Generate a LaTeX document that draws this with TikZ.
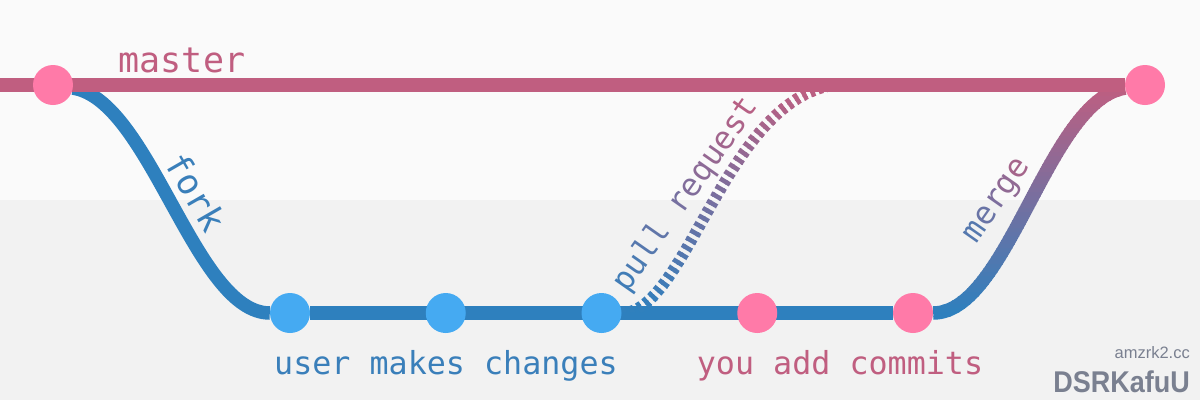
\documentclass[tikz,border=0pt]{standalone}
\usepackage{fontspec}
\setmonofont{DejaVu Sans Mono}
\setsansfont{Liberation Sans}
\usetikzlibrary{calc,positioning}
\definecolor{bgtop}{RGB}{250,250,250}
\definecolor{bgbot}{RGB}{242,242,242}
\definecolor{mauve}{RGB}{192,94,128}
\definecolor{lineblue}{RGB}{46,128,190}
\definecolor{dotpink}{RGB}{255,122,168}
\definecolor{dotblue}{RGB}{69,170,242}
\definecolor{txtblue}{RGB}{58,127,186}
\definecolor{wmgray}{RGB}{122,128,144}
\pgfdeclarelayer{bg}
\pgfsetlayers{bg,main}
\tikzset{%
  dot/.style = { circle, inner sep=0pt, minimum size=40pt },
  pinkdot/.style = { dot, fill=dotpink },
  bluedot/.style = { dot, fill=dotblue },
  branch/.style = { line width=13.5pt },
  pr/.style = { line width=11.5pt, dash pattern=on 4.5pt off 4pt },
  lbl/.style = { inner sep=0pt, font=\fontsize{31.7}{36}\selectfont\ttfamily },
  biglbl/.style = { inner sep=0pt, font=\fontsize{35}{40}\selectfont\ttfamily },
  wm/.style = { inner sep=0pt, text=wmgray, anchor=base east }
}
\newcommand\mixcol[2]{\textcolor{mauve!#1!txtblue}{#2}}

\begin{document}
\begin{tikzpicture}[x=1pt,y=-1pt]
  \useasboundingbox (0,0) rectangle (1200,400);

  % Master commits
  \node[pinkdot] (m1) at (53,85) {};
  \node[pinkdot] (m2) at (1145,85) {};
  \coordinate (m0) at (0,85);
  \coordinate (prend) at (834,85);

  % Fork commits
  \foreach \i/\sty in {1/bluedot,2/bluedot,3/bluedot,4/pinkdot,5/pinkdot} {
    \node[\sty] (c\i) at ({134.25+155.75*\i},313) {};
  }

  \begin{pgfonlayer}{bg}
    \fill[bgtop] (0,0) rectangle (1200,200);
    \fill[bgbot] (0,200) rectangle (1200,400);

    \draw[branch, lineblue] (m1) .. controls (150,100) and (195,313) .. (c1);
    \draw[branch, lineblue] (c1) -- (c5);

    % Merge and pull request, blue to mauve
    \foreach \i in {0,...,60} {
      \pgfmathsetmacro\ytop{76+4*\i}
      \pgfmathsetmacro\mix{max(0,min(100,(313-\ytop-2)/228*100))}
      \begin{scope}
        \clip (0,\ytop) rectangle (1200,\ytop+4.6);
        \draw[branch, draw=mauve!\mix!lineblue] (c5) .. controls (1008,313) and (1048,100) .. (m2);
        \draw[pr, draw=mauve!\mix!lineblue] (c3) .. controls (686,313) and (726,100) .. (prend);
      \end{scope}
    }

    \draw[branch, mauve] (m0) -- (m2);
  \end{pgfonlayer}

  % Labels
  \node[biglbl, text=mauve, anchor=base] (mastertext) at (182,72) {master};
  \node[biglbl, text=txtblue, rotate=-60] (forktext) at (196,192) {fork};
  \node[lbl, rotate=55] (prtext) at (686,195) {\mixcol{5}{p}\mixcol{13}{u}\mixcol{21}{l}\mixcol{29}{l} \mixcol{45}{r}\mixcol{53}{e}\mixcol{61}{q}\mixcol{69}{u}\mixcol{77}{e}\mixcol{85}{s}\mixcol{93}{t}};
  \node[lbl, rotate=55] (mergetext) at (999,202) {\mixcol{20}{m}\mixcol{35}{e}\mixcol{50}{r}\mixcol{65}{g}\mixcol{80}{e}};
  \node[lbl, text=txtblue, anchor=base] (usertext) at (446,374) {user makes changes};
  \node[lbl, text=mauve, anchor=base] (youtext) at (840,374) {you add commits};

  % Watermark
  \node[wm, font=\fontsize{16.5}{18}\selectfont\sffamily] (site) at (1190,358) {amzrk2.cc};
  \node[wm, xscale=0.9, font=\fontsize{30}{32}\selectfont\sffamily\bfseries] (author) at (1190,392) {DSRKafuU};
\end{tikzpicture}
\end{document}
